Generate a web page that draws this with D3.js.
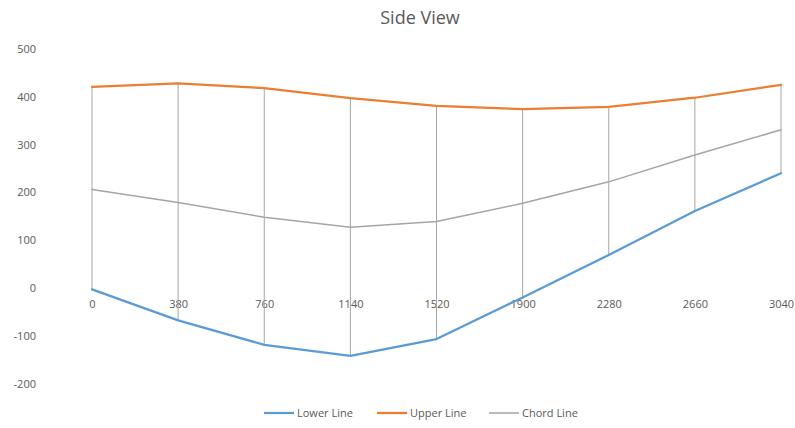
<!DOCTYPE html>
<html>
<head>
<meta charset="utf-8">
<script src="https://cdn.jsdelivr.net/npm/d3@7"></script>
<style>
  html, body { margin: 0; padding: 0; background: #fff; }
  svg text { font-family: "Open Sans", "Liberation Sans", sans-serif; fill: #595959; }
</style>
</head>
<body>
<svg id="chart" width="795" height="428"></svg>
<script>
// Stations along the span
const categories = ["0", "380", "760", "1140", "1520", "1900", "2280", "2660", "3040"];
// Profile heights at each station
const lowerLine = [-3, -68, -119, -142, -107, -20, 69, 161, 240];
const upperLine = [421, 428, 418, 397, 381, 374, 379, 398, 425];
const chordLine = [206, 179, 148, 127, 139, 177, 222, 278, 331];
const yTicks = [-200, -100, 0, 100, 200, 300, 400, 500];

const series = [
  { name: "Lower Line", values: lowerLine, color: "#5b9bd5", width: 2.25 },
  { name: "Upper Line", values: upperLine, color: "#ed7d31", width: 2.25 },
  { name: "Chord Line", values: chordLine, color: "#a5a5a5", width: 1.5 }
];

const svg = d3.select("#chart");

const x = d3.scalePoint().domain(categories).range([92, 781]);
const y = d3.scaleLinear().domain([-200, 500]).range([383.5, 49]);

// Title
svg.append("text")
  .attr("x", 420).attr("y", 24)
  .attr("text-anchor", "middle")
  .style("font-size", "18px")
  .text("Side View");

// Y axis labels (no axis line, no gridlines), plain hyphen for negatives
const yAxis = d3.axisLeft(y).tickValues(yTicks).tickSize(0).tickPadding(0)
  .tickFormat(d => String(d));
const gy = svg.append("g").attr("transform", "translate(36,0)").call(yAxis);
gy.select(".domain").remove();
gy.selectAll("text").style("font-size", "11px").attr("fill", "#595959").attr("font-family", null);

// X axis labels placed on the zero line
const xAxis = d3.axisBottom(x).tickSize(0).tickPadding(12);
const gx = svg.append("g").attr("transform", `translate(0,${y(0)})`).call(xAxis);
gx.select(".domain").remove();
gx.selectAll("text").style("font-size", "11px").attr("fill", "#595959").attr("font-family", null);

// Drop lines joining upper and lower profile at each station
svg.append("g").selectAll("line")
  .data(categories)
  .join("line")
  .attr("x1", d => x(d)).attr("x2", d => x(d))
  .attr("y1", (d, i) => y(upperLine[i]))
  .attr("y2", (d, i) => y(lowerLine[i]))
  .attr("stroke", "#a6a6a6")
  .attr("stroke-width", 1);

// Profile lines
const line = d3.line()
  .x((d, i) => x(categories[i]))
  .y(d => y(d));

svg.append("g").selectAll("path")
  .data(series)
  .join("path")
  .attr("d", d => line(d.values))
  .attr("fill", "none")
  .attr("stroke", d => d.color)
  .attr("stroke-width", d => d.width)
  .attr("stroke-linejoin", "round")
  .attr("stroke-linecap", "round");

// Legend
const legendX = [264, 377, 489];
const legend = svg.append("g").selectAll("g")
  .data(series)
  .join("g")
  .attr("transform", (d, i) => `translate(${legendX[i]},413)`);
legend.append("line")
  .attr("x1", 0).attr("x2", 30)
  .attr("stroke", d => d.color)
  .attr("stroke-width", d => d.width);
legend.append("text")
  .attr("x", 33).attr("y", 4)
  .style("font-size", "11px")
  .text(d => d.name);
</script>
</body>
</html>
